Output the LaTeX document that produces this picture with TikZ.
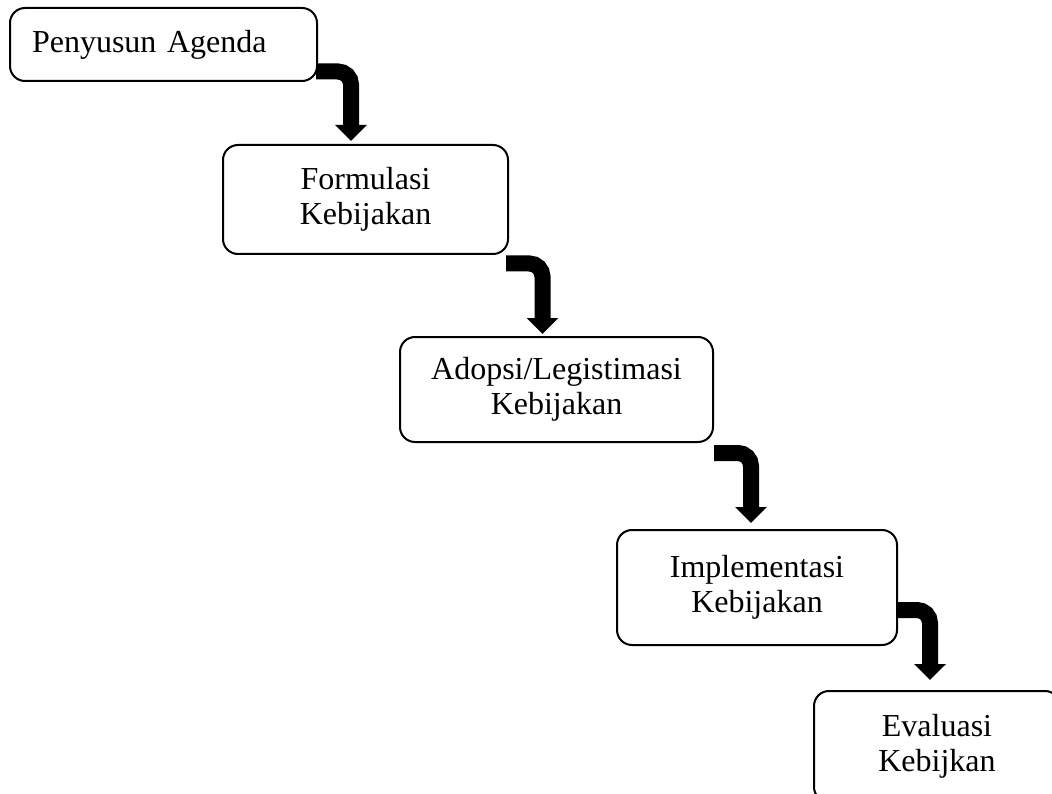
\documentclass[tikz,border=0pt]{standalone}
\usepackage{fontspec}
\setmainfont{Liberation Serif}
\usetikzlibrary{arrows.meta}
\begin{document}
\begin{tikzpicture}[x=1pt,y=-1pt,
  txt/.style={font=\fontsize{32}{35}\selectfont, align=center},
  box/.style={draw, line width=2pt, rounded corners=15pt, txt, inner sep=0pt},
  flow/.style={line width=16pt, rounded corners=13pt, -{Triangle[width=31pt,length=16pt]}}]
\clip (0,0) rectangle (1052,794);
\node[box, text width=263pt, inner xsep=22pt, minimum height=73pt, align=left] (b1) at (163.5,44.5) {Penyusun Agenda};
\node[box, minimum width=285pt, minimum height=109pt] (b2) at (365.5,199.5) {Formulasi\\Kebijakan};
\node[box, minimum width=313pt, minimum height=105pt] (b3) at (556.5,389.5) {Adopsi/Legistimasi\\Kebijakan};
\node[box, minimum width=280pt, minimum height=115pt] (b4) at (757,587.5) {Implementasi\\Kebijakan};
\node[box, minimum width=246pt, minimum height=111pt, anchor=north west] (b5) at (813,690) {Evaluasi\\Kebijkan};
\draw[flow] ([xshift=-2pt,yshift=-27pt]b1.east) -| ([xshift=-14.5pt,yshift=3pt]b2.north);
\draw[flow] ([xshift=-3pt,yshift=-64pt]b2.east) -| ([xshift=-14pt,yshift=2pt]b3.north);
\draw[flow] ([yshift=-63.5pt]b3.east) -| ([xshift=-6pt,yshift=6pt]b4.north);
\draw[flow] ([yshift=-22.5pt]b4.east) -| ([xshift=117pt,yshift=10pt]b5.north west);
\end{tikzpicture}
\end{document}
